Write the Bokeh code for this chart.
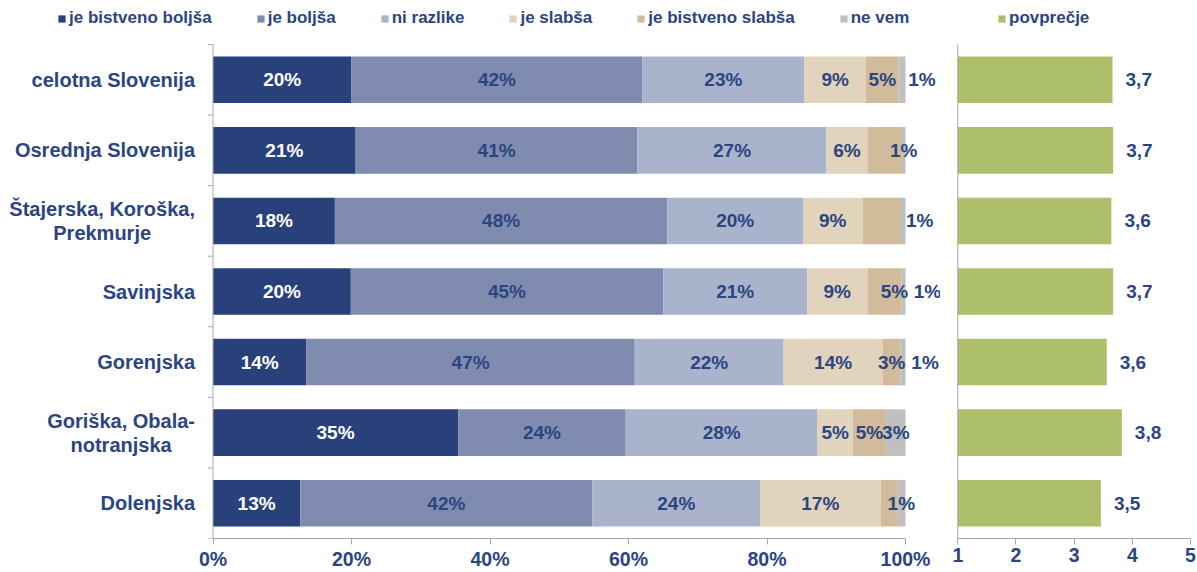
from bokeh.plotting import figure
from bokeh.models import ColumnDataSource, Range1d, FixedTicker, Label, LabelSet
from bokeh.layouts import row
from bokeh.core.properties import value
from bokeh.embed import file_html
from bokeh.resources import INLINE

# ---------------- data ----------------
categories = ["celotna Slovenija", "Osrednja Slovenija", "Štajerska, Koroška,\nPrekmurje",
              "Savinjska", "Gorenjska", "Goriška, Obala-\nnotranjska", "Dolenjska"]
series_names = ["je bistveno boljša", "je boljša", "ni razlike", "je slabša",
                "je bistveno slabša", "ne vem"]
bistveno_boljsa = [20.0, 20.6, 17.6, 19.9, 13.5, 35.4, 12.6]
boljsa = [42.0, 40.7, 48.0, 45.1, 47.4, 24.2, 42.2]
ni_razlike = [23.4, 27.3, 19.6, 20.8, 21.5, 27.7, 24.2]
slabsa = [8.9, 5.9, 8.6, 8.7, 14.3, 5.1, 17.4]
bistveno_slabsa = [4.7, 5.0, 5.4, 4.9, 2.6, 4.8, 2.4]
ne_vem = [1.0, 0.5, 0.8, 0.6, 0.7, 2.8, 1.2]

lbl_bistveno_boljsa = ["20%", "21%", "18%", "20%", "14%", "35%", "13%"]
lbl_boljsa = ["42%", "41%", "48%", "45%", "47%", "24%", "42%"]
lbl_ni_razlike = ["23%", "27%", "20%", "21%", "22%", "28%", "24%"]
lbl_slabsa = ["9%", "6%", "9%", "9%", "14%", "5%", "17%"]
lbl_bistveno_slabsa = ["5%", "", "", "5%", "3%", "5%", ""]
lbl_ne_vem = ["1%", "1%", "1%", "1%", "1%", "3%", "1%"]

povprecje = [3.66, 3.67, 3.64, 3.67, 3.56, 3.82, 3.46]
avg_legend = "povprečje"

pct_ticks = [0, 20, 40, 60, 80, 100]
pct_tick_labels = ["0%", "20%", "40%", "60%", "80%", "100%"]
avg_ticks = [1, 2, 3, 4, 5]
avg_tick_labels = ["1", "2", "3", "4", "5"]

# ---------------- style / layout ----------------
TEXT = "#2B4582"
FONT = "Liberation Sans"
GRAY = "#A6A6A6"
colors = ["#28417A", "#7F8CAF", "#A9B3CB", "#E1D3BC", "#D2BB9A", "#BFBFBF"]
avg_color = "#ADBF6B"
# pixel nudges for a few segment labels (as in the original)
dx_ne_vem = [20, 0, 17, 24, 22, 0, 0]
dx_bistveno_slabsa = [0, 0, 0, 10, 0, 0, 0]
dx_zero = [0] * 7

TOP_PX = 44        # space above first row (legend area)
FRAME_H = 538      # px from top to the x axis
BOTTOM_PX = 34     # x-axis area
L_W, L_ZERO, L_SPAN = 940, 212.5, 692.5   # left figure width, px of 0 %, px for 100 %
R_W, R_ONE, R_SPAN = 257, 17.3, 232.7     # right figure width, px of 1, px for 1..5
LEG_CY = 18        # legend centre, px from top

series_values = [bistveno_boljsa, boljsa, ni_razlike, slabsa, bistveno_slabsa, ne_vem]
series_labels = [lbl_bistveno_boljsa, lbl_boljsa, lbl_ni_razlike, lbl_slabsa,
                 lbl_bistveno_slabsa, lbl_ne_vem]
series_dx = [dx_zero, dx_zero, dx_zero, dx_zero, dx_bistveno_slabsa, dx_ne_vem]
keys = ["s%d" % i for i in range(len(series_names))]

n = len(categories)
yc = [n - i - 0.5 for i in range(n)]
row_px = (FRAME_H - TOP_PX) / n
y_end = n + TOP_PX / row_px

data = dict(y=yc)
for k, vals in zip(keys, series_values):
    data[k] = vals
src = ColumnDataSource(data)


def style_xaxis(fig, ticks, labels, bounds):
    fig.xgrid.visible = False
    fig.ygrid.visible = False
    fig.yaxis.visible = False
    fig.outline_line_color = None
    ax = fig.xaxis[0]
    ax.ticker = FixedTicker(ticks=ticks)
    ax.major_label_overrides = {t: l for t, l in zip(ticks, labels)}
    ax.bounds = bounds
    ax.axis_line_color = GRAY
    ax.major_tick_line_color = GRAY
    ax.minor_tick_line_color = None
    ax.major_tick_in = 0
    ax.major_tick_out = 6
    ax.major_label_standoff = 3
    ax.major_label_text_font = FONT
    ax.major_label_text_font_style = "bold"
    ax.major_label_text_color = TEXT
    ax.major_label_text_font_size = "19.5px"


def style_legend(leg, x0):
    leg.orientation = "horizontal"
    leg.location = (x0, FRAME_H - LEG_CY - 10)
    leg.padding = 0
    leg.margin = 0
    leg.spacing = 44
    leg.glyph_width = 9
    leg.glyph_height = 9
    leg.label_height = 20
    leg.label_standoff = 3
    leg.label_text_font = FONT
    leg.label_text_font_style = "bold"
    leg.label_text_font_size = "17px"
    leg.label_text_color = TEXT
    leg.border_line_alpha = 0
    leg.background_fill_alpha = 0


# ---------------- left chart ----------------
px_per_pct = L_SPAN / 100.0
lx_range = Range1d(-L_ZERO / px_per_pct, (L_W - L_ZERO) / px_per_pct)
p = figure(frame_width=L_W, frame_height=FRAME_H, x_range=lx_range, y_range=Range1d(0, y_end),
           min_border_left=0, min_border_right=0, min_border_top=0, min_border_bottom=BOTTOM_PX,
           output_backend="svg", toolbar_location=None)
p.hbar_stack(keys, y="y", height=0.66, color=colors, line_color=None, source=src,
             legend_label=series_names)
style_xaxis(p, pct_ticks, pct_tick_labels, (0, 100))
style_legend(p.legend[0], 57)

# vertical category axis at 0 % with ticks at the band boundaries
tick_len = 5 / px_per_pct
p.segment(x0=[0], y0=[0], x1=[0], y1=[n], line_color=GRAY, line_width=1)
p.segment(x0=[-tick_len] * (n + 1), y0=list(range(n + 1)), x1=[0] * (n + 1),
          y1=list(range(n + 1)), line_color=GRAY, line_width=1)

lx, ly, lt, lc, ldx = [], [], [], [], []
for i in range(n):
    start = 0.0
    for j, vals in enumerate(series_values):
        v = vals[i]
        lx.append(start + v / 2)
        ly.append(yc[i])
        lt.append(series_labels[j][i])
        lc.append("white" if j == 0 else TEXT)
        ldx.append(series_dx[j][i])
        start += v
lsrc = ColumnDataSource(dict(x=lx, y=ly, text=lt, color=lc, dx=ldx))
p.add_layout(LabelSet(x="x", y="y", text="text", source=lsrc, x_offset="dx", text_color="color",
                      text_align="center", text_baseline="middle", text_font=value(FONT),
                      text_font_style="bold", text_font_size=value("19px")))

for cat, y in zip(categories, yc):
    p.add_layout(Label(x=0, y=y, x_offset=-18, text=cat, anchor="center_right",
                       text_align="center", text_baseline="middle", text_font=FONT,
                       text_font_style="bold", text_font_size="20px", text_color=TEXT,
                       text_line_height=1.1))

# ---------------- right chart ----------------
px_per_unit = R_SPAN / 4.0
rx_range = Range1d(1 - R_ONE / px_per_unit, 1 + (R_W - R_ONE) / px_per_unit)
avg_labels = [("%.1f" % v).replace(".", ",") for v in povprecje]
asrc = ColumnDataSource(dict(y=yc, avg=povprecje, lbl=avg_labels))
q = figure(frame_width=R_W, frame_height=FRAME_H, x_range=rx_range, y_range=Range1d(0, y_end),
           min_border_left=0, min_border_right=0, min_border_top=0, min_border_bottom=BOTTOM_PX,
           output_backend="svg", toolbar_location=None)
q.hbar(y="y", left=1, right="avg", height=0.66, color=avg_color, line_color=None, source=asrc,
       legend_label=avg_legend)
style_xaxis(q, avg_ticks, avg_tick_labels, (1, 5))
style_legend(q.legend[0], 57)
q.segment(x0=[1], y0=[0], x1=[1], y1=[n], line_color=GRAY, line_width=1)
q.add_layout(LabelSet(x="avg", y="y", text="lbl", source=asrc, x_offset=13, text_color=TEXT,
                      text_align="left", text_baseline="middle", text_font=value(FONT),
                      text_font_style="bold", text_font_size=value("19px")))

layout = row(p, q)
open("out.html", "w").write(file_html(layout, INLINE))
